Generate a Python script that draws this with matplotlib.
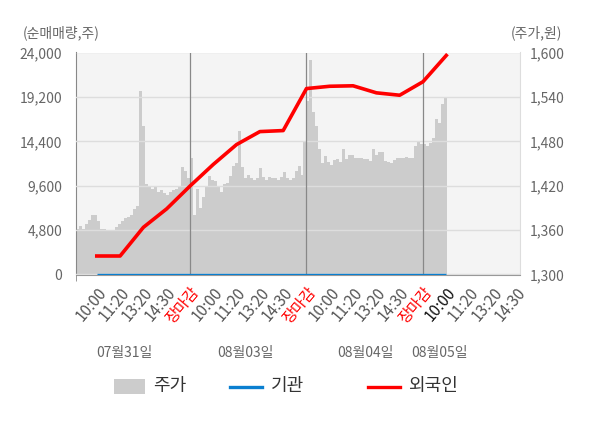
import matplotlib
matplotlib.use('Agg')
import matplotlib.pyplot as plt
from matplotlib.patches import Rectangle
from matplotlib.lines import Line2D
import numpy as np

plt.rcParams['font.family'] = ['Noto Sans CJK KR', 'DejaVu Sans']

# x tick labels (5 per day, last day cut)
tick_labels = ['10:00', '11:20', '13:20', '14:30', '장마감'] * 3 + ['10:00', '11:20', '13:20', '14:30']
dates = ['07월31일', '08월03일', '08월04일', '08월05일']

# price (주가, 원), 10 minute steps
price_d1 = [1381, 1362, 1366, 1362, 1368, 1374, 1380, 1381, 1372, 1362,
            1362, 1360, 1360, 1360, 1364, 1368, 1372, 1376, 1378, 1380,
            1388, 1392, 1548, 1500, 1422, 1420, 1416, 1418, 1412, 1414,
            1410, 1408, 1412, 1414, 1415, 1418, 1445, 1440, 1430]
price_d2 = [1457, 1380, 1415, 1390, 1405, 1420, 1433, 1428, 1426, 1420,
            1412, 1422, 1424, 1433, 1446, 1450, 1494, 1445, 1430, 1434,
            1430, 1428, 1430, 1444, 1432, 1428, 1432, 1430, 1430, 1428,
            1432, 1438, 1430, 1428, 1430, 1440, 1446, 1434, 1480]
price_d3 = [1534, 1590, 1520, 1500, 1470, 1450, 1460, 1452, 1448, 1455,
            1456, 1452, 1470, 1456, 1462, 1462, 1458, 1457, 1457, 1456,
            1456, 1454, 1470, 1462, 1466, 1466, 1454, 1452, 1450, 1455,
            1457, 1458, 1458, 1459, 1457, 1458, 1474, 1480, 1476]
price_d4 = [1476, 1474, 1478, 1484, 1510, 1505, 1530, 1540]

# net buying (순매매량, 주) at each tick
foreign = [2000, 2000, 5100, 7100, 9560, 11900, 14050, 15450,
           15560, 20100, 20350, 20400, 19640, 19380, 20840, 23680]
inst = [0] * 16

days = [price_d1, price_d2, price_d3, price_d4]
px, py = [], []
for d, vals in enumerate(days):
    px += [d + j / 39 for j in range(len(vals))]
    py += vals
px.append(px[-1] + 1 / 39)
py.append(py[-1])

ticks = [d + 0.2 * (k + 1) for d in range(4) for k in range(5)][:len(tick_labels)]
line_x = ticks[:len(foreign)]

fig = plt.figure(figsize=(6, 4.28), dpi=100)
ax = fig.add_axes([76 / 600, (428 - 274.5) / 428, 444 / 600, 222 / 428])
ax.set_facecolor('#f4f4f4')
ax.fill_between(px, 1300, py, step='post', color='#cccccc', lw=0, zorder=1)
ax.set_xlim(0.0215, 3.833)
ax.set_ylim(1300, 1600)
ax.set_axisbelow(False)
ax.grid(axis='y', color='#dddddd', lw=1)
for d in [1, 2, 3]:
    ax.axvline(d, color='#888888', lw=0.9, zorder=3)

ax2 = ax.twinx()
ax2.plot(line_x, inst, color='#0a7fd0', lw=2.4, solid_capstyle='butt', zorder=4)
ax2.plot(line_x, foreign, color='#ff0000', lw=2.6, zorder=5)
ax2.set_ylim(0, 24000)

ax.yaxis.tick_right()
ax2.yaxis.tick_left()
pt = [1300, 1360, 1420, 1480, 1540, 1600]
ax.set_yticks(pt)
ax.set_yticklabels([f'{v:,}' for v in pt])
vt = [0, 4800, 9600, 14400, 19200, 24000]
ax2.set_yticks(vt)
ax2.set_yticklabels([f'{v:,}' for v in vt])
ax.tick_params(axis='y', length=0, pad=7, labelsize=10, labelcolor='#666666')
ax2.tick_params(axis='y', length=0, pad=10, labelsize=10, labelcolor='#666666')

ax.set_xticks(ticks)
ax.set_xticklabels(tick_labels, rotation=50, ha='right', rotation_mode='anchor',
                   fontsize=11, color='#555555')
ax.tick_params(axis='x', length=0, pad=7)
for lab, txt in zip(ax.get_xticklabels(), tick_labels):
    if txt == '장마감':
        lab.set_color('#ff0000')
ax.get_xticklabels()[15].set_color('#111111')
ax.set_xticks([0.0215, 1, 2, 3], minor=True)
ax.tick_params(axis='x', which='minor', length=4, color='#888888')

for s in ax2.spines.values():
    s.set_visible(False)
ax.spines['top'].set_visible(False)
ax.spines['left'].set_color('#888888')
ax.spines['bottom'].set_color('#999999')
ax.spines['right'].set_color('#dddddd')

fig.text(23 / 600, 1 - 33 / 428, '(순매매량,주)', ha='left', va='center', fontsize=10, color='#666666')
fig.text(562 / 600, 1 - 33 / 428, '(주가,원)', ha='right', va='center', fontsize=10, color='#666666')

for xp, t in zip([124.5, 245, 365, 440], dates):
    fig.text(xp / 600, 1 - 353 / 428, t, ha='center', va='center', fontsize=10, color='#666666')

# legend
ly = 1 - 386.5 / 428
fig.add_artist(Rectangle((114 / 600, 1 - 393.5 / 428), 31 / 600, 15 / 428,
                         transform=fig.transFigure, color='#cccccc', lw=0))
fig.text(153 / 600, ly, '주가', va='center', fontsize=13, color='#333333')
fig.add_artist(Line2D([230 / 600, 262 / 600], [ly, ly], transform=fig.transFigure,
                      color='#0a7fd0', lw=2.4))
fig.text(271 / 600, ly, '기관', va='center', fontsize=13, color='#333333')
fig.add_artist(Line2D([368 / 600, 400 / 600], [ly, ly], transform=fig.transFigure,
                      color='#ff0000', lw=2.4))
fig.text(408 / 600, ly, '외국인', va='center', fontsize=13, color='#333333')

fig.savefig('out.png', dpi=100)
